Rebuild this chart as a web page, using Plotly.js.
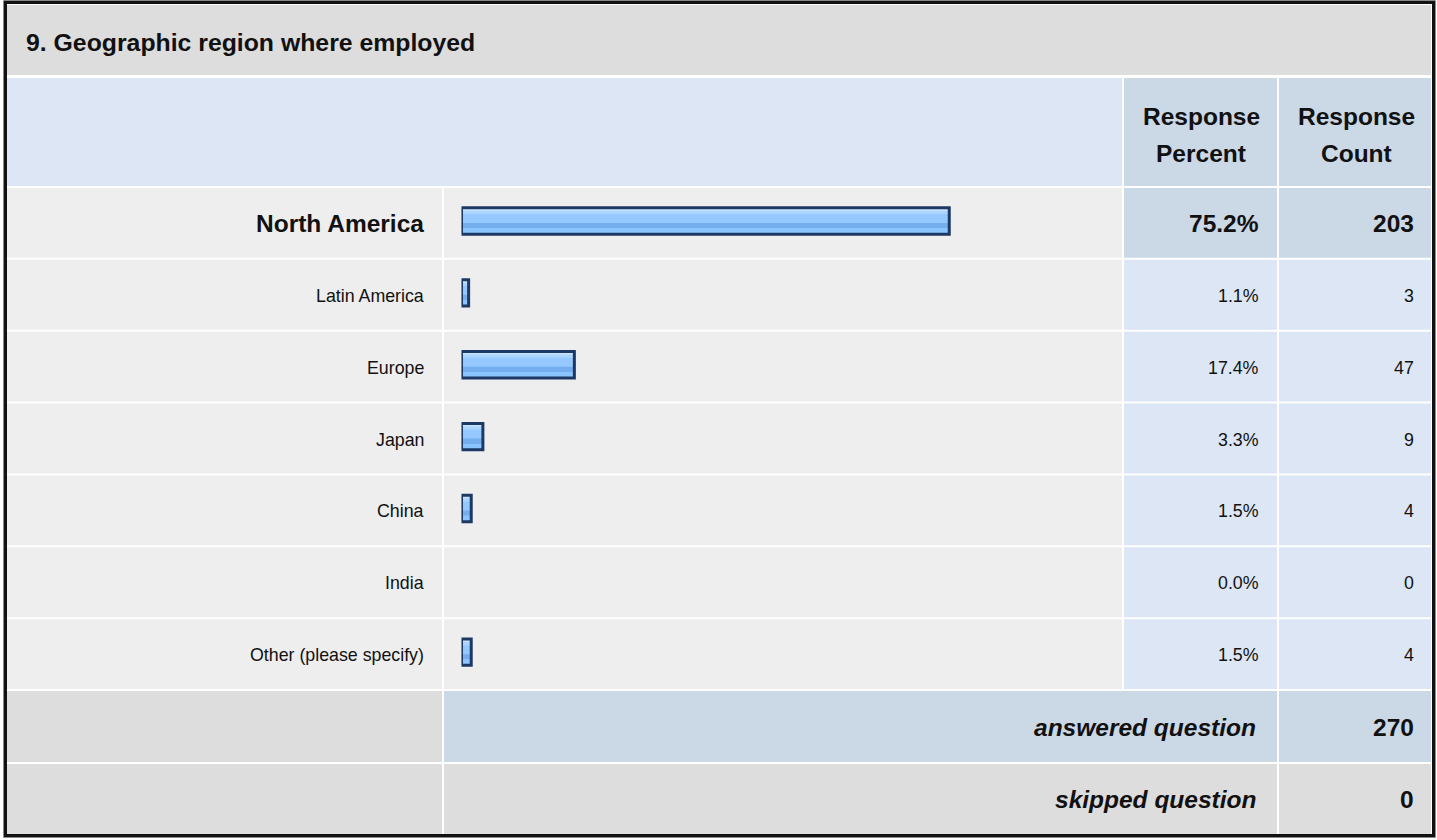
<!DOCTYPE html>
<html>
<head>
<meta charset="utf-8">
<script src="https://cdn.plot.ly/plotly-3.0.1.min.js"></script>
<style>html,body{margin:0;padding:0;background:#fff;}#chart{width:1437px;height:840px;}</style>
</head>
<body>
<div id="chart"></div>
<script>
// ---- data ----
const title = '9. Geographic region where employed';
const regions = ['North America', 'Latin America', 'Europe', 'Japan', 'China', 'India', 'Other (please specify)'];
const percents = [75.2, 1.1, 17.4, 3.3, 1.5, 0.0, 1.5];
const counts = [203, 3, 47, 9, 4, 0, 4];
const headerPercent = ['Response', 'Percent'];
const headerCount = ['Response', 'Count'];
const summaryLabels = ['answered question', 'skipped question'];
const summaryValues = [270, 0];
const highlighted = ['North America'];

// ---- geometry helpers (layout only) ----
const W = 1437, H = 840;
const px = x => x / W;
const py = y => 1 - y / H;
const FONT = '"Liberation Sans", Arial, Helvetica, sans-serif';
const FS = 17.8, FSB = 24.5, FST = 24.8;
const INK = '#111111';
const GRAY = '#DDDDDD', LIGHT = '#EEEEEE', BLUE = '#DCE6F4', BLUE2 = '#CBD8E6';

const ROW0 = 188, ROWEND = 691;
const P = (ROWEND - ROW0) / regions.length;
const COL = {lab: [7, 442], bar: [444, 1122], pct: [1124, 1277], cnt: [1279, 1431]};

function rect(x0, y0, x1, y1, color) {
  return {type: 'rect', xref: 'paper', yref: 'paper', x0: px(x0), x1: px(x1), y0: py(y1), y1: py(y0),
          fillcolor: color, line: {width: 0}, layer: 'below'};
}

const shapes = [];
shapes.push(rect(7, 5, 1431, 75, GRAY));
shapes.push(rect(COL.lab[0], 78, COL.bar[1], 186, BLUE));
shapes.push(rect(COL.pct[0], 78, COL.pct[1], 186, BLUE2));
shapes.push(rect(COL.cnt[0], 78, COL.cnt[1], 186, BLUE2));
regions.forEach((r, i) => {
  const t = ROW0 + i * P, b = ROW0 + (i + 1) * P - 2;
  const hl = highlighted.includes(r);
  shapes.push(rect(COL.lab[0], t, COL.lab[1], b, LIGHT));
  shapes.push(rect(COL.bar[0], t, COL.bar[1], b, LIGHT));
  shapes.push(rect(COL.pct[0], t, COL.pct[1], b, hl ? BLUE2 : BLUE));
  shapes.push(rect(COL.cnt[0], t, COL.cnt[1], b, hl ? BLUE2 : BLUE));
});
const sumRows = [[691, 762, BLUE2], [764, 834, GRAY]];
sumRows.forEach(([t, b, c]) => {
  shapes.push(rect(COL.lab[0], t, COL.lab[1], b, GRAY));
  shapes.push(rect(COL.bar[0], t, COL.pct[1], b, c));
  shapes.push(rect(COL.cnt[0], t, COL.cnt[1], b, c));
});
shapes.push({type: 'rect', xref: 'paper', yref: 'paper', x0: px(3.5), x1: px(1435.5), y0: py(837.5), y1: py(0.5),
             line: {color: '#8a8a8a', width: 1}, fillcolor: 'rgba(0,0,0,0)', layer: 'above'});
shapes.push({type: 'rect', xref: 'paper', yref: 'paper', x0: px(5.5), x1: px(1433.5), y0: py(835.5), y1: py(2.5),
             line: {color: '#111111', width: 3}, fillcolor: 'rgba(0,0,0,0)', layer: 'above'});

// ---- annotations ----
const ann = [];
function txt(text, x, y, opts, size) {
  return Object.assign({text: text, x: x, y: y, xref: 'paper', yref: 'paper', showarrow: false,
    xanchor: 'right', yanchor: 'middle', font: {family: FONT, size: size, color: INK}}, opts || {});
}
ann.push(txt('<b>' + title + '</b>', px(24), py(42), {xanchor: 'left'}, FST));
ann.push(txt('<b>' + headerPercent[0] + '</b>', px(1201), py(117), {xanchor: 'center'}, FSB));
ann.push(txt('<b>' + headerPercent[1] + '</b>', px(1201), py(153), {xanchor: 'center'}, FSB));
ann.push(txt('<b>' + headerCount[0] + '</b>', px(1356), py(117), {xanchor: 'center'}, FSB));
ann.push(txt('<b>' + headerCount[1] + '</b>', px(1356), py(153), {xanchor: 'center'}, FSB));

regions.forEach((r, i) => {
  const hl = highlighted.includes(r);
  const w = s => hl ? '<b>' + s + '</b>' : s;
  const sz = hl ? FSB : FS;
  ann.push(txt(w(r), px(426), r, {yref: 'y'}, sz));
  ann.push(txt(w(percents[i].toFixed(1) + '%'), px(1261), r, {yref: 'y'}, sz));
  ann.push(txt(w(String(counts[i])), px(1416), r, {yref: 'y'}, sz));
});
summaryLabels.forEach((s, i) => {
  const yc = [727, 799][i];
  ann.push(txt('<b><i>' + s + '</i></b>', px(1258), py(yc), null, FSB));
  ann.push(txt('<b>' + summaryValues[i] + '</b>', px(1416), py(yc), null, FSB));
});

// ---- bars: striped gradient fill + dark outline, all from percents ----
const OFF = -0.224, BW = 0.367;
function barLayer(color, offset, width, line) {
  return {type: 'bar', orientation: 'h', x: percents, y: regions, width: width, offset: offset,
          marker: {color: color, line: line || {width: 0}}, hoverinfo: 'skip', showlegend: false};
}
const traces = [
  barLayer('#95C8FF', OFF, BW),
  barLayer('#C8E4FF', OFF, 0.045),
  barLayer('#ABD5FF', -0.18, 0.042),
  barLayer('#74AEEE', -0.013, 0.074),
  barLayer('#8CC4FF', 0.061, 0.082),
  barLayer('rgba(0,0,0,0)', OFF, BW, {color: '#1C3864', width: percents.map(v => v > 0 ? 3 : 0)})
];

const layout = {
  width: W, height: H,
  margin: {l: 0, r: 0, t: 0, b: 0, pad: 0},
  paper_bgcolor: '#ffffff', plot_bgcolor: 'rgba(0,0,0,0)',
  barmode: 'overlay',
  showlegend: false,
  xaxis: {domain: [px(461.5), px(1110.1)], range: [0, 100], visible: false, fixedrange: true},
  yaxis: {domain: [py(ROWEND), py(ROW0)], type: 'category', categoryorder: 'array', categoryarray: regions,
          range: [regions.length - 0.5, -0.5], visible: false, fixedrange: true},
  shapes: shapes,
  annotations: ann
};

Plotly.newPlot('chart', traces, layout, {displayModeBar: false, staticPlot: true});
</script>
</body>
</html>
